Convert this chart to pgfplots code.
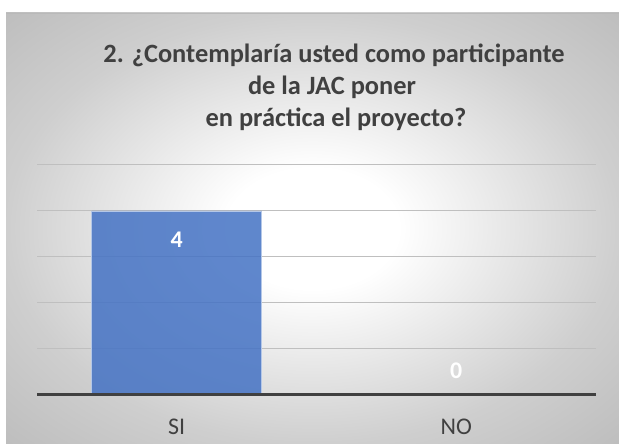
\documentclass[border=0pt]{standalone}
\usepackage{pgfplots}
\pgfplotsset{compat=1.18}
\usepackage{fontspec}
\setmainfont{Carlito}
\definecolor{txt}{HTML}{404040}
\definecolor{barblue}{HTML}{4472C4}
\definecolor{gridc}{HTML}{BFBFBF}
\pgfdeclareradialshading{bgshade}{\pgfpoint{0bp}{0bp}}{color(0bp)=(white); color(7bp)=(white); color(25bp)=(gray!38); color(36bp)=(gray!52); color(50bp)=(gray!52)}
\pgfplotstableread{
x y off
0 4 -29
1 0 24.5
}\bardata
\begin{document}
\begin{tikzpicture}[x=1bp,y=1bp]
\path[use as bounding box] (0,0) rectangle (619,444);
\shade[shading=bgshade] (6,0) rectangle (619,431);
\draw[gray!55, line width=0.8bp] (6,431) -- (619,431);
\node[anchor=base, text=txt, font=\bfseries\fontsize{26.5}{32}\selectfont] at (334,381) {2. ¿Contemplaría usted como participante};
\node[anchor=base, text=txt, font=\bfseries\fontsize{26.5}{32}\selectfont] at (332,349) {de la JAC poner};
\node[anchor=base, text=txt, font=\bfseries\fontsize{26.5}{32}\selectfont] at (336,317) {en práctica el proyecto?};
\begin{axis}[
  at={(37bp,49bp)}, anchor=south west,
  width=559bp, height=230bp, scale only axis,
  xmin=-0.5, xmax=1.5, ymin=0, ymax=5,
  ybar, bar width=0.608,
  axis x line*=bottom, axis y line*=left,
  x axis line style={-, draw=none},
  y axis line style={draw=none},
  ytick={1,2,3,4,5}, yticklabels={},
  xtick={0,1}, xticklabels={SI,NO},
  major tick length=0,
  ymajorgrids, grid style={gridc, line width=1bp},
  xticklabel style={anchor=base, yshift=-40bp, text=txt, font=\fontsize{24}{28}\selectfont},
  /pgf/number format/assume math mode=true,
  clip=false,
]
\addplot[fill=barblue, fill opacity=0.85, draw=barblue!40!white, line width=0.6bp,
  nodes near coords,
  visualization depends on={\thisrow{off} \as \off},
  nodes near coords style={text=white, text opacity=1, anchor=center, yshift=\off bp, font=\bfseries\fontsize{24}{28}\selectfont}]
  table[x=x, y=y] {\bardata};
\draw[txt, line width=3bp] (rel axis cs:0,0) -- (rel axis cs:1,0);
\end{axis}
\end{tikzpicture}
\end{document}
